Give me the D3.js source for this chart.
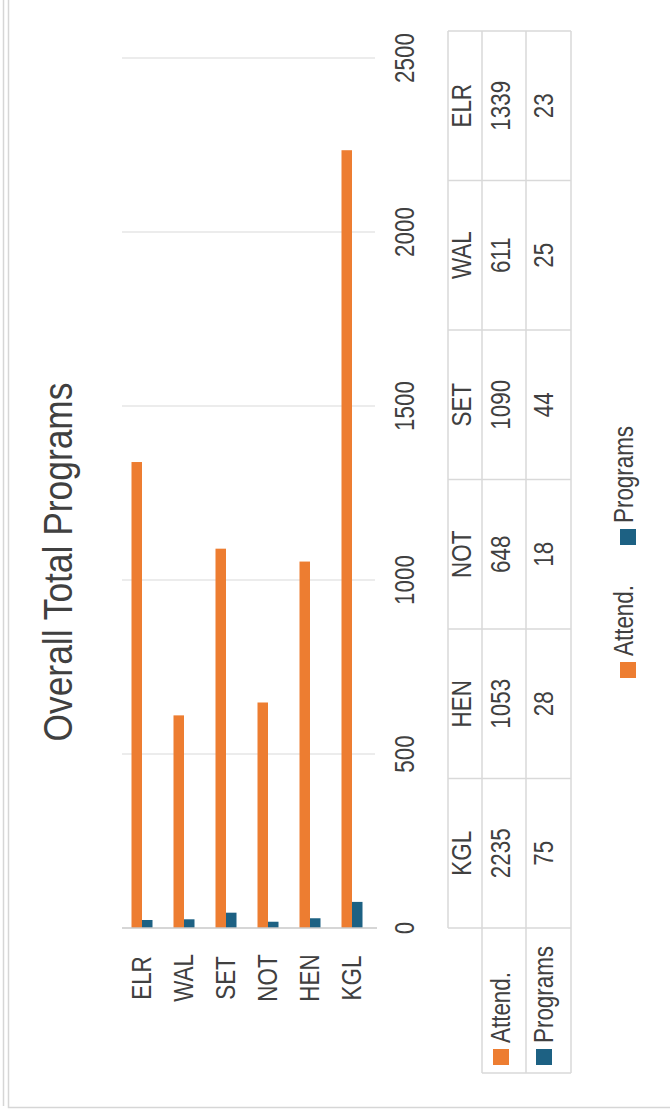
<!DOCTYPE html>
<html><head><meta charset="utf-8">
<script src="https://cdn.jsdelivr.net/npm/d3@7"></script>
<style>html,body{margin:0;padding:0;background:#fff;}svg{display:block;}</style>
</head><body>
<script>
const tableCats = ["KGL","HEN","NOT","SET","WAL","ELR"];
const attendValues = [2235,1053,648,1090,611,1339];
const programValues = [75,28,18,44,25,23];
const seriesNames = ["Attend.","Programs"];
const seriesColors = ["#ED7D31","#1D6183"];
const valueTicks = [0,500,1000,1500,2000,2500];
const title = "Overall Total Programs";

const W = 670, H = 1114;
const FONT = "'Liberation Sans', Arial, sans-serif";
const TXT = "#404040", GRID = "#d9d9d9";
const SX = 0.8;

const svg = d3.select("body").append("svg").attr("width", W).attr("height", H);
svg.append("rect").attr("width", W).attr("height", H).attr("fill", "#fff");
// picture frame lines
svg.append("line").attr("x1",3.5).attr("x2",3.5).attr("y1",0).attr("y2",1106).attr("stroke","#d6d6d6").attr("stroke-width",1.5);
svg.append("path").attr("d","M8.5,0 V1107.5 H670").attr("fill","none").attr("stroke","#d6d6d6").attr("stroke-width",1.5);

// unrotated frame: px = uy, py = H - ux
const g = svg.append("g").attr("transform", `translate(0,${H}) rotate(-90)`);

function txt(sel, x, y, s, opts = {}) {
  const t = sel.append("text")
    .attr("transform", `translate(${x},${y}) scale(${opts.sx ?? SX},1)`)
    .attr("font-family", FONT).attr("font-size", opts.fs ?? 28)
    .attr("fill", opts.fill ?? TXT).attr("text-anchor", opts.anchor ?? "middle")
    .text(s);
  return t;
}

const chartCats = tableCats.slice().reverse();
const x = d3.scaleLinear().domain([0, 2500]).range([186, 1056]);
const y0 = d3.scaleBand().domain(chartCats).range([121, 373]);
const y1 = d3.scaleBand().domain(seriesNames).range([0, 21]);
const rows = tableCats.map((c, i) => ({cat: c, vals: [attendValues[i], programValues[i]]}));

// gridlines
g.append("g").selectAll("line").data(valueTicks.slice(1)).join("line")
  .attr("x1", d => x(d)).attr("x2", d => x(d)).attr("y1", 122).attr("y2", 375)
  .attr("stroke", GRID).attr("stroke-width", 1.2);

// bars
const grp = g.append("g").selectAll("g").data(rows).join("g")
  .attr("transform", d => `translate(0,${y0(d.cat) + (y0.bandwidth() - 21) / 2})`);
grp.selectAll("rect").data(d => d.vals.map((v, j) => ({v, j}))).join("rect")
  .attr("x", x(0)).attr("y", d => y1(seriesNames[d.j]))
  .attr("width", d => x(d.v) - x(0)).attr("height", y1.bandwidth())
  .attr("fill", d => seriesColors[d.j]);

// baseline
g.append("line").attr("x1", x(0)).attr("x2", x(0)).attr("y1", 122).attr("y2", 377)
  .attr("stroke", "#c8c8c8").attr("stroke-width", 1.5);

// value tick labels
valueTicks.forEach(v => txt(g, x(v), 414, d3.format("d")(v)));

// category labels
chartCats.forEach(c => txt(g, 136, y0(c) + y0.bandwidth() / 2 + 9, c));

// title
g.append("text").attr("transform", `translate(552,72)`)
  .attr("font-family", FONT).attr("font-size", 40).attr("fill", TXT)
  .attr("text-anchor", "middle").attr("textLength", 359).attr("lengthAdjust", "spacingAndGlyphs")
  .text(title);

// data table
const tx = d3.scaleBand().domain(tableCats).range([186, 1083]);
const rowY = [448, 482, 526, 571];
const tg = g.append("g").attr("stroke", GRID).attr("stroke-width", 1.5);
tg.append("line").attr("x1", 186).attr("x2", 1083).attr("y1", rowY[0]).attr("y2", rowY[0]);
rowY.slice(1).forEach(yv => tg.append("line").attr("x1", 41).attr("x2", 1083).attr("y1", yv).attr("y2", yv));
tg.append("line").attr("x1", 41).attr("x2", 41).attr("y1", rowY[1]).attr("y2", rowY[3]);
tableCats.forEach(c => tg.append("line").attr("x1", tx(c)).attr("x2", tx(c)).attr("y1", rowY[0]).attr("y2", rowY[3]));
tg.append("line").attr("x1", 1083).attr("x2", 1083).attr("y1", rowY[0]).attr("y2", rowY[3]);

rows.forEach(r => {
  const cx = tx(r.cat) + tx.bandwidth() / 2;
  txt(g, cx, 471, r.cat);
  txt(g, cx, 510, String(r.vals[0]));
  txt(g, cx, 553, String(r.vals[1]));
});

// legend keys in table
const keyBase = [510, 553];
seriesNames.forEach((s, j) => {
  g.append("rect").attr("x", 49).attr("y", keyBase[j] - 17).attr("width", 16).attr("height", 16).attr("fill", seriesColors[j]);
  txt(g, 71, keyBase[j], s, {anchor: "start"});
});

// bottom legend
const legX = [436, 569];
seriesNames.forEach((s, j) => {
  g.append("rect").attr("x", legX[j]).attr("y", 620).attr("width", 16).attr("height", 16).attr("fill", seriesColors[j]);
  txt(g, legX[j] + 22, 633, s, {anchor: "start"});
});
</script>
</body></html>
